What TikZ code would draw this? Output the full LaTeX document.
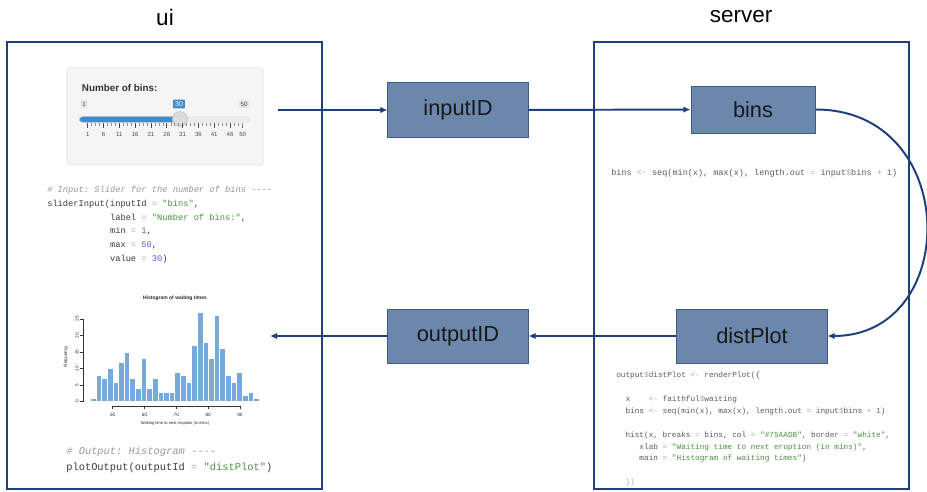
\documentclass[tikz,border=0pt]{standalone}
\usepackage{fontspec}
\setmainfont{Liberation Sans}
\setsansfont{Liberation Sans}
\setmonofont{Liberation Mono}
\usetikzlibrary{arrows.meta, positioning, fit}

\definecolor{navy}{HTML}{1F3E7C}
\definecolor{boxfill}{HTML}{6C87AC}
\definecolor{boxedge}{HTML}{3B5B8E}
\definecolor{codetext}{HTML}{3A3A3A}
\definecolor{codelight}{HTML}{5A5A5A}
\definecolor{cmtgrey}{HTML}{8D9AA5}
\definecolor{strgreen}{HTML}{4C9141}
\definecolor{numblue}{HTML}{5B5BD6}
\definecolor{opgrey}{HTML}{A8A8A8}
\definecolor{sliderblue}{HTML}{428BCA}
\definecolor{histblue}{HTML}{75AADB}

% R syntax colouring
\newcommand{\rcmt}[1]{\textcolor{cmtgrey}{\itshape #1}}
\newcommand{\rstr}[1]{\textcolor{strgreen}{#1}}
\newcommand{\rnum}[1]{\textcolor{numblue}{#1}}
\newcommand{\rop}[1]{\textcolor{opgrey}{#1}}

\begin{document}
\begin{tikzpicture}[x=0.025cm, y=-0.025cm,
    panel/.style={draw=navy, line width=2.1pt, inner sep=0pt},
    title/.style={font=\fontsize{16}{19}\selectfont, text=black},
    idbox/.style={rectangle, draw=boxedge, fill=boxfill, line width=0.7pt, minimum width=35mm, minimum height=13.5mm, font=\fontsize{15.5}{18}\selectfont, text=black!90},
    flow/.style={-{Latex[length=5pt, width=4.5pt]}, navy, line width=1.4pt},
    code/.style={font=\ttfamily\fontsize{6.2}{9.7}\selectfont, text=codetext, align=left, anchor=base west, inner sep=0pt},
    ticklabel/.style={font=\fontsize{4.3}{5}\selectfont, text=black!70, inner sep=0pt},
    histaxis/.style={black!80, line width=0.3pt},
    histtext/.style={font=\fontsize{3.3}{4}\selectfont, text=black!85, inner sep=0pt},
]

\useasboundingbox[fill=white] (0,0) rectangle (927,492);

% === PANELS ===
\node[panel, fit={(7,42) (322,489)}] (ui) {};
\node[panel, fit={(594,42) (909,489)}] (server) {};
\node[title] (uilabel) at (165,17) {ui};
\node[title] (serverlabel) at (741,17) {server};

% === SLIDER WIDGET ===
\node[draw=black!12, fill=black!4, rounded corners=2pt, inner sep=0pt, fit={(67,68) (263,165)}] (slider) {};
\node[anchor=west, font=\bfseries\fontsize{7}{8}\selectfont, text=black!80] (binslabel) at (77,88) {Number of bins:};
\draw[fill=black!7, draw=black!12, rounded corners=2pt] (80,117) rectangle (250,122);
\draw[fill=sliderblue, draw=sliderblue, rounded corners=2pt] (80,117) rectangle (180,122);
\node[circle, draw=black!25, fill=black!14, minimum size=3.75mm, inner sep=0pt] (knob) at (180,119) {};
\node[ticklabel, fill=black!10, inner sep=1.2pt, rounded corners=0.5pt] (minval) at (84,104) {1};
\node[ticklabel, fill=black!10, inner sep=1.2pt, rounded corners=0.5pt] (maxval) at (244,104) {50};
\node[ticklabel, fill=sliderblue, text=white, inner sep=1.4pt, rounded corners=0.5pt, font=\fontsize{5}{6}\selectfont] (curval) at (179,104) {30};
% grid under the track
\foreach \v in {1,6,...,46,50} {
    \draw[black!70, line width=0.4pt] ({87.7+(\v-1)*3.163},123.5) -- ({87.7+(\v-1)*3.163},128.5);
    \node[ticklabel] at ({87.7+(\v-1)*3.163},134) {\v};
}
\foreach \v in {1,6,...,46} {
    \foreach \k in {1,2,3} {
        \draw[black!45, line width=0.3pt] ({87.7+(\v-1+\k*1.25)*3.163},123.5) -- ({87.7+(\v-1+\k*1.25)*3.163},126);
    }
}

% === UI CODE === (node base sits on the last line)
\node[code] (uicode) at (47,261.2) {%
\rcmt{\# Input: Slider for the number of bins -{}-{}-{}-}\\
sliderInput(inputId \rop{=} \rstr{"bins"},\\
\hphantom{sliderInput(}label \rop{=} \rstr{"Number of bins:"},\\
\hphantom{sliderInput(}min \rop{=} \rnum{1},\\
\hphantom{sliderInput(}max \rop{=} \rnum{50},\\
\hphantom{sliderInput(}value \rop{=} \rnum{30})};

% === HISTOGRAM ===
\node[histtext, font=\bfseries\fontsize{3.55}{4}\selectfont] (histtitle) at (175,298) {Histogram of waiting times};
\foreach \c [count=\i from 0] in {1,8,7,10,6,12,15,7,4,13,4,7,3,3,3,9,8,6,17,27,18,13,26,16,8,6,9,2,3,1} {
    \filldraw[fill=histblue, draw=white, line width=0.35pt] ({90.4+\i*5.62},401.7) rectangle ({90.4+(\i+1)*5.62},{401.7-\c*3.31});
}
\draw[histaxis] (83.3,401.7) -- (83.3,319);
\foreach \v in {0,5,...,25} {
    \draw[histaxis] (83.3,{401.7-\v*3.31}) -- (80.3,{401.7-\v*3.31});
    \node[histtext, rotate=90] at (77,{401.7-\v*3.31}) {\v};
}
\node[histtext, rotate=90] (freq) at (66,357) {Frequency};
\draw[histaxis] (112.7,406) -- (240,406);
\foreach \m in {50,60,...,90} {
    \draw[histaxis] ({112.7+(\m-50)*3.18},406) -- ({112.7+(\m-50)*3.18},409);
    \node[histtext] at ({112.7+(\m-50)*3.18},414.5) {\m};
}
\node[histtext, font=\fontsize{2.9}{3.5}\selectfont] (xlab) at (175,423) {Waiting time to next eruption (in mins)};

\node[code, font=\ttfamily\fontsize{7.4}{11.4}\selectfont] (plotcode) at (66,470.5) {%
\rcmt{\# Output: Histogram -{}-{}-{}-}\\
plotOutput(outputId \rop{=} \rstr{"distPlot"})};

% === SERVER CODE ===
\node[code, text=codelight, font=\ttfamily\fontsize{6.05}{8}\selectfont] (binscode) at (611,176) {%
bins \rop{<-} seq(min(x), max(x), length.out \rop{=} input\rop{\$}bins \rop{+} \rnum{1})};

\node[code, text=codelight, font=\ttfamily\fontsize{5.5}{8.47}\selectfont] (rendercode) at (616,484.8) {%
output\rop{\$}distPlot \rop{<-} renderPlot(\{\\
\mbox{}\\
\hphantom{xx}x\hphantom{xxxx}\rop{<-} faithful\rop{\$}waiting\\
\hphantom{xx}bins \rop{<-} seq(min(x), max(x), length.out \rop{=} input\rop{\$}bins \rop{+} \rnum{1})\\
\mbox{}\\
\hphantom{xx}hist(x, breaks \rop{=} bins, col \rop{=} \rstr{"\#75AADB"}, border \rop{=} \rstr{"white"},\\
\hphantom{xxxxx}xlab \rop{=} \rstr{"Waiting time to next eruption (in mins)"},\\
\hphantom{xxxxx}main \rop{=} \rstr{"Histogram of waiting times"})\\
\mbox{}\\
\hphantom{xx}\rop{\})}};

% === ID BOXES ===
\node[idbox] (inputID) at (458,110) {inputID};
\node[idbox] (outputID) at (458,336) {outputID};
\node[idbox, minimum width=31mm, minimum height=11.75mm] (bins) at (753,109.5) {bins};
\node[idbox, minimum width=37.5mm] (distPlot) at (752,336) {distPlot};

% === CONNECTIONS ===
\coordinate (sliderout) at (278,110);
\coordinate (plotin) at (270,336);
\draw[flow] (sliderout) -- (inputID);
\draw[flow] (inputID) -- (bins);
\draw[flow] (bins.east) .. controls +(146,0) and +(134,0) .. (distPlot.east);
\draw[flow] (distPlot) -- (outputID);
\draw[flow] (outputID) -- (plotin);

\end{tikzpicture}
\end{document}
